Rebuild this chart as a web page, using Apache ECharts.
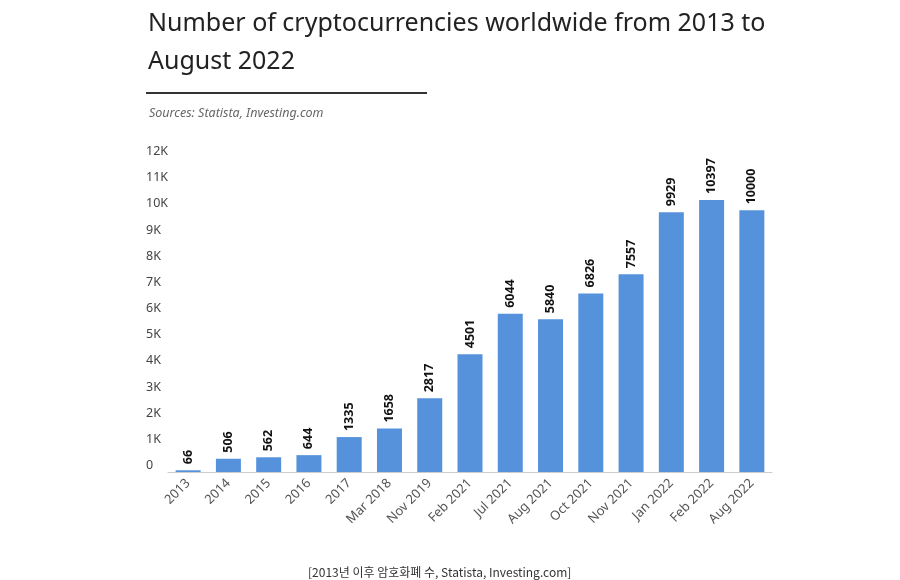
<!DOCTYPE html>
<html><head><meta charset="utf-8">
<script src="https://cdn.jsdelivr.net/npm/echarts@6/dist/echarts.min.js"></script>
<style>html,body{margin:0;padding:0;background:#fff}#c{width:900px;height:580px}</style>
</head><body><div id="c"></div>
<script>
const categories = ['2013','2014','2015','2016','2017','Mar 2018','Nov 2019','Feb 2021','Jul 2021','Aug 2021','Oct 2021','Nov 2021','Jan 2022','Feb 2022','Aug 2022'];
const counts = [66,506,562,644,1335,1658,2817,4501,6044,5840,6826,7557,9929,10397,10000];
const yTicks = [0,1000,2000,3000,4000,5000,6000,7000,8000,9000,10000,11000,12000];
const titleText = 'Number of cryptocurrencies worldwide from 2013 to\nAugust 2022';
const sourceText = 'Sources: Statista, Investing.com';
const captionText = '[2013년 이후 암호화폐 수, Statista, Investing.com]';

const chart = echarts.init(document.getElementById('c'), null, {renderer:'canvas'});
chart.setOption({
  backgroundColor:'#fff',
  animation:false,
  title:[
    {text:titleText,left:143,top:0,textStyle:{fontFamily:'Noto Sans',fontSize:25,fontWeight:'normal',color:'#222',lineHeight:38}},
    {text:sourceText,left:144,top:102,textStyle:{fontFamily:'Noto Sans',fontSize:12.5,fontStyle:'italic',fontWeight:'normal',color:'#666'}},
    {text:captionText,left:303,top:561,textStyle:{fontFamily:'Noto Sans CJK KR',fontSize:12,fontWeight:'normal',color:'#333'}}
  ],
  graphic:[{type:'rect',shape:{x:146,y:92,width:281,height:2},style:{fill:'#333'}}],
  grid:{left:168,right:128,top:158,bottom:108,containLabel:false},
  xAxis:{type:'category',data:categories,
    axisLine:{lineStyle:{color:'#ccc'}},axisTick:{show:false},
    axisLabel:{rotate:45,interval:0,margin:9,fontFamily:'Noto Sans',fontSize:13,color:'#555'}},
  yAxis:{type:'value',min:yTicks[0],max:yTicks[yTicks.length-1],interval:1000,
    splitLine:{show:false},axisLine:{show:false},axisTick:{show:false},
    axisLabel:{align:'left',margin:22,verticalAlign:'bottom',padding:[0,0,0,0],fontFamily:'Noto Sans',fontSize:12.5,color:'#444',
      formatter:v=>v===0?'0':(v/1000)+'K'}},
  series:[{type:'bar',data:counts,barWidth:25,
    itemStyle:{color:'#5592db'},
    label:{show:true,position:'top',rotate:90,align:'left',verticalAlign:'middle',distance:6,
      fontFamily:'Noto Sans',fontSize:12.5,fontWeight:'bold',color:'#111'}}]
});
</script></body></html>
